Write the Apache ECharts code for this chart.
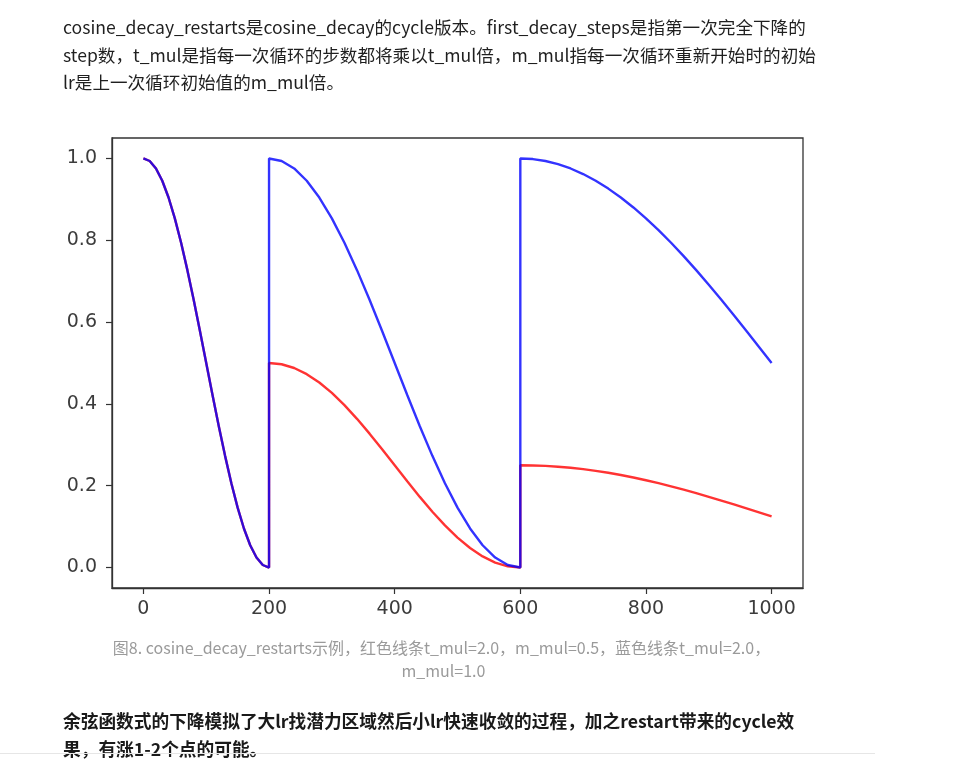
<!DOCTYPE html>
<html>
<head>
<meta charset="utf-8">
<script src="https://cdn.jsdelivr.net/npm/echarts@6/dist/echarts.min.js"></script>
<style>
  html, body { margin:0; padding:0; background:#fff; width:979px; height:762px; overflow:hidden; }
  #chart { position:absolute; left:0; top:0; width:979px; height:762px; }
  .ln { position:absolute; white-space:nowrap; font-family:"Microsoft YaHei","Noto Sans CJK SC",sans-serif; }
  .p { left:63px; font-size:17.6px; line-height:28px; color:#1f1f1f; }
  .cap { font-size:16px; line-height:22px; color:#9a9a9a; width:979px; left:-48px; text-align:center; }
  .b { left:63px; font-size:17.7px; line-height:28px; color:#1a1a1a; font-weight:bold; }
  #rule { position:absolute; left:0; top:753px; width:875px; height:1px; background:#e6e6e6; }
</style>
</head>
<body>
<div id="chart"></div>
<div class="ln p" style="top:13px">cosine_decay_restarts是cosine_decay的cycle版本。first_decay_steps是指第一次完全下降的</div>
<div class="ln p" style="top:41px">step数，t_mul是指每一次循环的步数都将乘以t_mul倍，m_mul指每一次循环重新开始时的初始</div>
<div class="ln p" style="top:68px">lr是上一次循环初始值的m_mul倍。</div>
<div class="ln cap" style="top:636px">图8. cosine_decay_restarts示例，红色线条t_mul=2.0，m_mul=0.5，蓝色线条t_mul=2.0，</div>
<div class="ln cap" style="top:659px; left:-46px">m_mul=1.0</div>
<div class="ln b" style="top:706px">余弦函数式的下降模拟了大lr找潜力区域然后小lr快速收敛的过程，加之restart带来的cycle效</div>
<div class="ln b" style="top:734px">果，有涨1-2个点的可能。</div>
<div id="rule"></div>
<script>
// ---- data ----
var steps1 = [0,10,20,30,40,50,60,70,80,90,100,110,120,130,140,150,160,170,180,190,200];
var steps2 = [200,220,240,260,280,300,320,340,360,380,400,420,440,460,480,500,520,540,560,580,600];
var steps3 = [600,620,640,660,680,700,720,740,760,780,800,820,840,860,880,900,920,940,960,980,1000];

var redCycle1  = [1.0,0.9938,0.9755,0.9455,0.9045,0.8536,0.7939,0.7270,0.6545,0.5782,0.5,0.4218,0.3455,0.2730,0.2061,0.1464,0.0955,0.0545,0.0245,0.0062,0.0];
var redCycle2  = [0.5,0.4969,0.4878,0.4728,0.4523,0.4268,0.3969,0.3635,0.3273,0.2891,0.25,0.2109,0.1727,0.1365,0.1031,0.0732,0.0477,0.0273,0.0122,0.0031,0.0];
var redCycle3  = [0.25,0.2496,0.2485,0.2465,0.2439,0.2405,0.2364,0.2316,0.2261,0.2201,0.2134,0.2062,0.1985,0.1903,0.1818,0.1728,0.1636,0.1542,0.1446,0.1348,0.125];

var blueCycle1 = [1.0,0.9938,0.9755,0.9455,0.9045,0.8536,0.7939,0.7270,0.6545,0.5782,0.5,0.4218,0.3455,0.2730,0.2061,0.1464,0.0955,0.0545,0.0245,0.0062,0.0];
var blueCycle2 = [1.0,0.9938,0.9755,0.9455,0.9045,0.8536,0.7939,0.7270,0.6545,0.5782,0.5,0.4218,0.3455,0.2730,0.2061,0.1464,0.0955,0.0545,0.0245,0.0062,0.0];
var blueCycle3 = [1.0,0.9985,0.9938,0.9862,0.9755,0.9619,0.9455,0.9263,0.9045,0.8802,0.8536,0.8247,0.7939,0.7613,0.7270,0.6913,0.6545,0.6167,0.5782,0.5392,0.5];

var xTicks = [0,200,400,600,800,1000];
var yTicks = [0,0.2,0.4,0.6,0.8,1.0];

function pairs(xsList, ysList) {
  var out = [];
  for (var c = 0; c < xsList.length; c++) {
    for (var i = 0; i < xsList[c].length; i++) out.push([xsList[c][i], ysList[c][i]]);
  }
  return out;
}
var redData  = pairs([steps1, steps2, steps3], [redCycle1, redCycle2, redCycle3]);
var blueData = pairs([steps1, steps2, steps3], [blueCycle1, blueCycle2, blueCycle3]);

var tickFont = { fontFamily:'DejaVu Sans', fontSize:19, color:'#3c3c3c' };
var chart = echarts.init(document.getElementById('chart'), null, { renderer:'canvas' });
chart.setOption({
  animation:false,
  backgroundColor:'#ffffff',
  grid:{ left:112, top:138, width:691, height:450, show:true, borderColor:'#333', borderWidth:1.3, backgroundColor:'transparent' },
  xAxis:{
    type:'value', min:-50, max:1050, position:'bottom',
    axisLine:{ show:true, onZero:false, lineStyle:{ color:'#333', width:1.3 } },
    splitLine:{ show:false },
    axisTick:{ show:true, inside:false, length:6, lineStyle:{ color:'#333', width:1.2 }, customValues:xTicks },
    axisLabel:Object.assign({ margin:12, customValues:xTicks, formatter:function(v){ return String(v); } }, tickFont)
  },
  yAxis:{
    type:'value', min:-0.05, max:1.05, position:'left',
    axisLine:{ show:true, onZero:false, lineStyle:{ color:'#333', width:1.3 } },
    splitLine:{ show:false },
    axisTick:{ show:true, inside:false, length:6, lineStyle:{ color:'#333', width:1.2 }, customValues:yTicks },
    axisLabel:Object.assign({ margin:15, customValues:yTicks, formatter:function(v){ return v.toFixed(1); } }, tickFont)
  },
  series:[
    { type:'line', name:'red', data:redData, showSymbol:false, smooth:false,
      lineStyle:{ color:'rgba(255,0,0,0.8)', width:2.4 } },
    { type:'line', name:'blue', data:blueData, showSymbol:false, smooth:false,
      lineStyle:{ color:'rgba(0,0,255,0.8)', width:2.4 } }
  ]
});
</script>
</body>
</html>
